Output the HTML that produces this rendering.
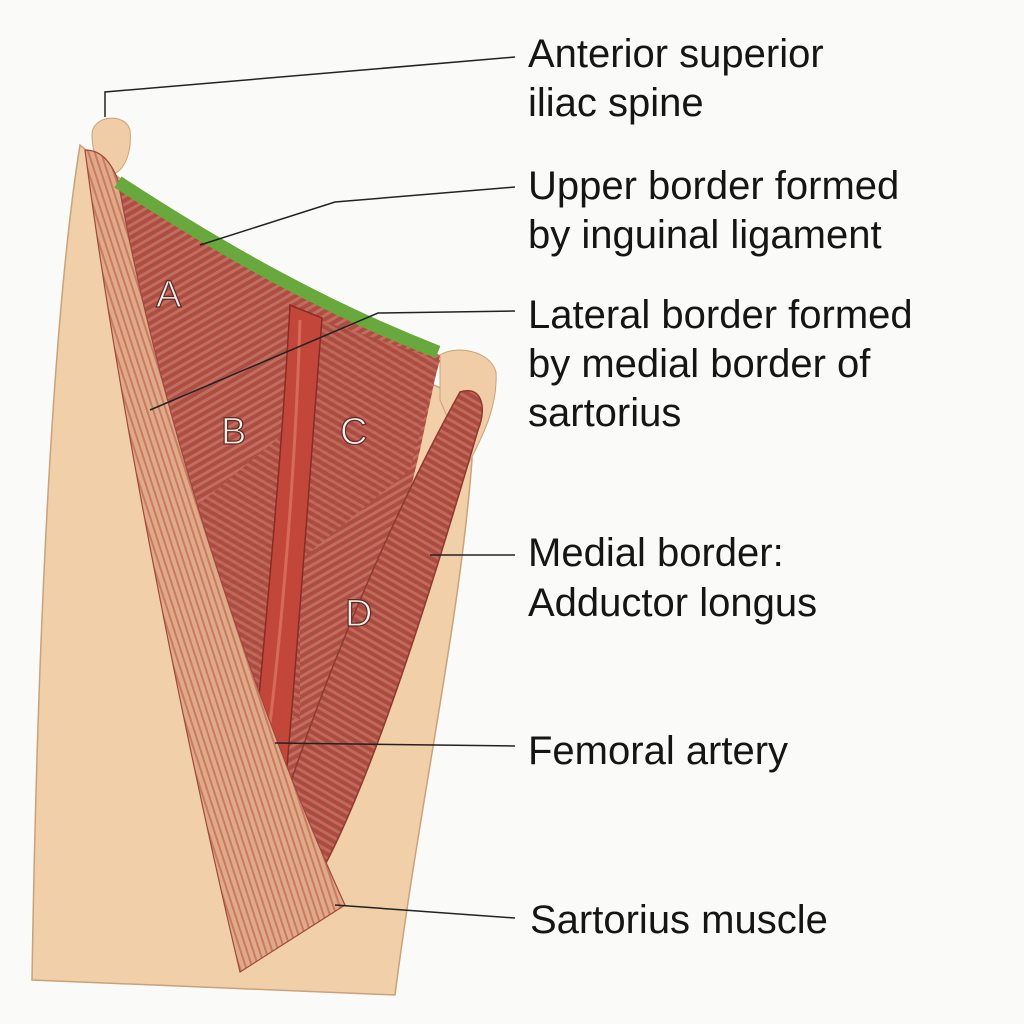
<!DOCTYPE html>
<html><head><meta charset="utf-8"><style>
html,body{margin:0;padding:0;background:#fafaf9;}
svg{display:block}
.t{font-family:"Liberation Sans",sans-serif;font-size:40px;fill:#151515;}
.l{font-family:"Liberation Sans",sans-serif;font-size:38px;fill:#f6eee8;stroke:#5a2a24;stroke-width:1.2;}
</style></head><body>
<svg width="1024" height="1024" viewBox="0 0 1024 1024" xmlns="http://www.w3.org/2000/svg">
<defs>
<pattern id="st" width="7" height="7" patternUnits="userSpaceOnUse" patternTransform="rotate(60)">
<rect width="7" height="7" fill="#ad4d43"/><rect width="3" height="7" fill="#c26e5e"/></pattern>
<pattern id="st2" width="7" height="7" patternUnits="userSpaceOnUse" patternTransform="rotate(-60)">
<rect width="7" height="7" fill="#aa4a40"/><rect width="3" height="7" fill="#c06a5a"/></pattern>
<pattern id="sa" width="6" height="6" patternUnits="userSpaceOnUse" patternTransform="rotate(-18)">
<rect width="6" height="6" fill="#e0aa88"/><rect width="2" height="6" fill="#c77b62"/></pattern>
</defs>
<rect width="1024" height="1024" fill="#fafaf9"/>
<path d="M80,145 C55,300 38,600 32,980 L395,995 C420,800 460,620 472,460 L470,400 L300,330 Z" fill="#f1cfa9" stroke="#c9a27a" stroke-width="1.5"/>
<path d="M92,135 C92,115 125,112 130,130 C132,150 126,170 112,175 C100,170 92,155 92,135 Z" fill="#f0cda7" stroke="#c9a27a"/>
<path d="M440,355 C455,345 490,350 496,372 C498,410 480,440 468,465 L440,400 Z" fill="#f0cda7" stroke="#c9a27a"/>
<path d="M118,182 C230,255 330,310 440,355 L420,450 L320,870 L220,700 L140,400 Z" fill="url(#st)"/>
<path d="M180,520 L300,420 L300,720 L235,700 Z" fill="url(#st2)" opacity="0.9"/>
<path d="M290,310 L440,360 L410,470 L300,560 Z" fill="url(#st2)" opacity="0.9"/>
<path d="M460,392 C480,385 488,405 478,430 C440,560 380,760 325,865 L285,800 C330,660 400,500 460,392 Z" fill="url(#st2)" stroke="#8f3a30" stroke-width="1.5"/>
<path d="M290,305 L322,318 C310,470 300,620 285,790 L255,740 C268,600 282,450 290,305 Z" fill="#c2473a" stroke="#8a2c24" stroke-width="1.5"/>
<path d="M300,320 C296,450 285,600 268,740" stroke="#d86a58" stroke-width="3" fill="none"/>
<path d="M85,150 C100,150 110,160 118,180 C160,420 260,720 345,905 L240,972 C190,760 120,420 85,150 Z" fill="url(#sa)" stroke="#9c4a3c" stroke-width="1.2"/>
<path d="M118,182 C230,255 330,310 438,352" stroke="#69a83c" stroke-width="13" fill="none"/>
<text class="l" x="156" y="307">A</text>
<text class="l" x="221" y="444">B</text>
<text class="l" x="340" y="444">C</text>
<text class="l" x="345" y="626">D</text>
<g stroke="#222" stroke-width="1.5" fill="none">
<polyline points="105,117 105,92 515,57"/>
<polyline points="200,245 335,202 515,187"/>
<polyline points="150,410 378,313 515,311"/>
<polyline points="430,555 515,555"/>
<polyline points="275,743 515,746"/>
<polyline points="335,905 515,918"/>
</g>
<text class="t" x="528" y="67">Anterior superior</text>
<text class="t" x="528" y="116">iliac spine</text>
<text class="t" x="528" y="199">Upper border formed</text>
<text class="t" x="528" y="248">by inguinal ligament</text>
<text class="t" x="528" y="328">Lateral border formed</text>
<text class="t" x="528" y="377">by medial border of</text>
<text class="t" x="528" y="426">sartorius</text>
<text class="t" x="528" y="566">Medial border:</text>
<text class="t" x="528" y="616">Adductor longus</text>
<text class="t" x="528" y="764">Femoral artery</text>
<text class="t" x="530" y="933">Sartorius muscle</text>
</svg>
</body></html>
